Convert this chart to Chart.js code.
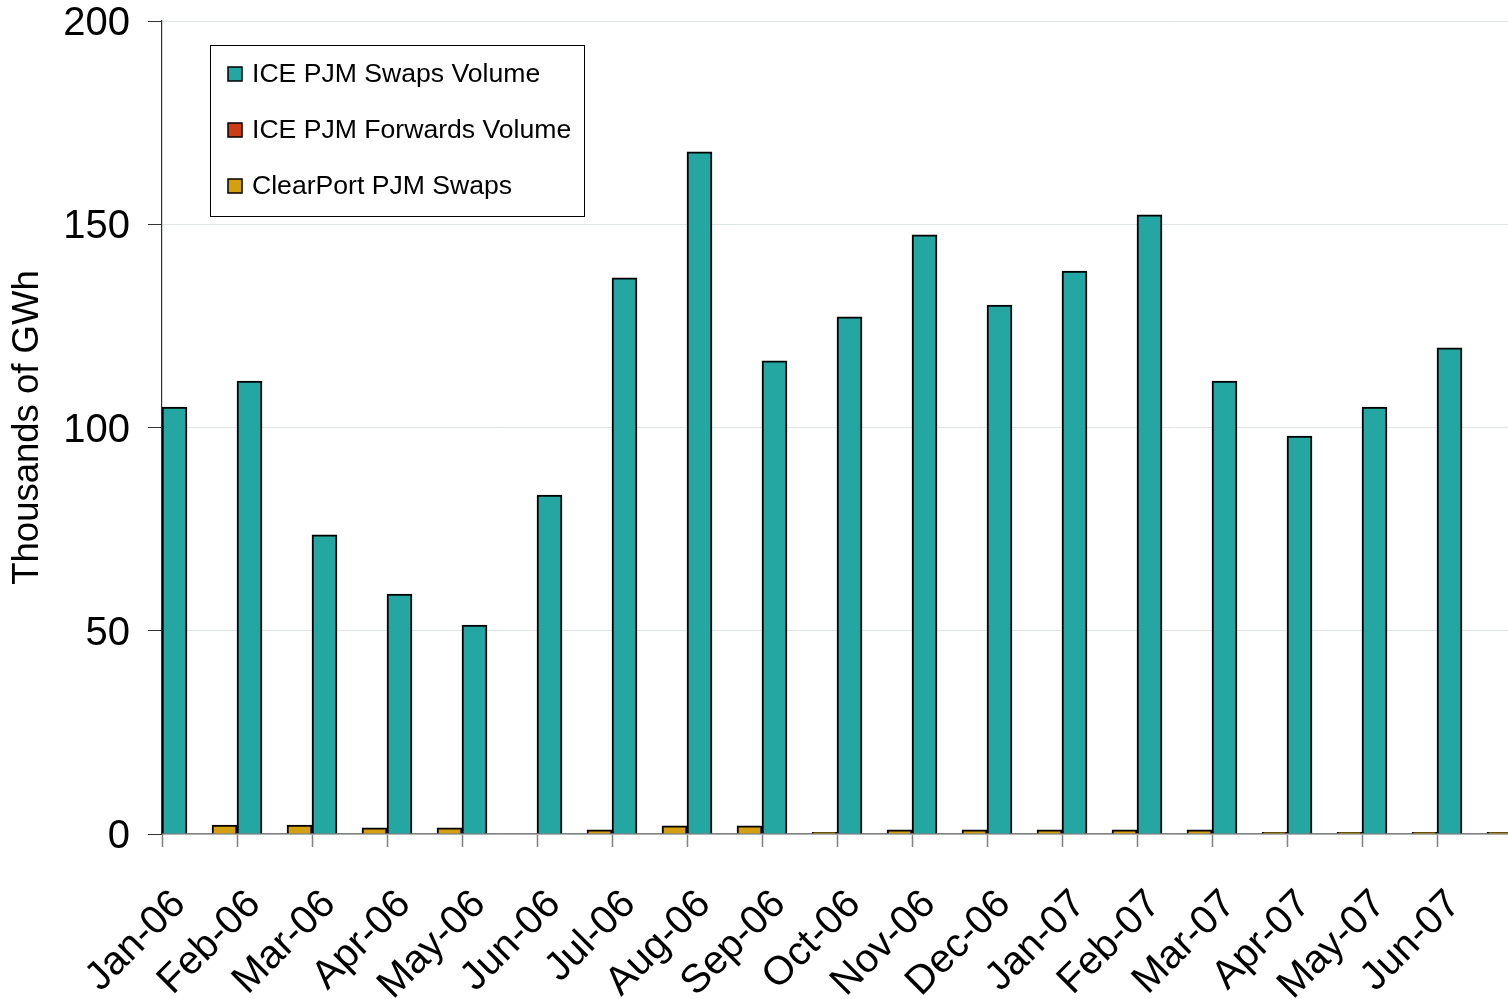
<!DOCTYPE html>
<html><head><meta charset="utf-8">
<script src="https://cdn.jsdelivr.net/npm/chart.js@4.4.1/dist/chart.umd.min.js"></script>
<style>html,body{margin:0;padding:0;background:#fff;overflow:hidden}#wrap{width:1512px;height:999px;position:relative}</style>
</head><body><div id="wrap"><canvas id="c"></canvas></div>
<script>
const categories = ['Jan-06','Feb-06','Mar-06','Apr-06','May-06','Jun-06','Jul-06','Aug-06','Sep-06','Oct-06','Nov-06','Dec-06','Jan-07','Feb-07','Mar-07','Apr-07','May-07','Jun-07'];
const iceSwapsVolume = [105.0,111.4,73.6,59.0,51.4,83.4,136.8,167.8,116.4,127.2,147.4,130.1,138.5,152.3,111.4,97.9,105.0,119.6];
const iceForwardsVolume = [0,0,0,0,0,0,0,0,0,0,0,0,0,0,0,0,0,0];
const clearPortSwaps = [2.2,2.2,1.5,1.5,0,1.0,2.0,2.0,0.4,1.0,1.0,1.0,1.0,1.0,0.4,0.4,0.4,0.4];
const seriesNames = ['ICE PJM Swaps Volume','ICE PJM Forwards Volume','ClearPort PJM Swaps'];
const seriesColors = ['#24a6a2','#cc3d14','#d4a010'];
const yTickValues = [0,50,100,150,200];
const yTitle = 'Thousands of GWh';

const FONT = '"Liberation Sans", Arial, sans-serif';

const boxLegend = {
  id: 'boxLegend',
  afterDraw(chart) {
    const ctx = chart.ctx, ca = chart.chartArea;
    const x = ca.left + 48, y = ca.top + 24, w = 374, h = 171;
    ctx.save();
    ctx.fillStyle = '#fff';
    ctx.fillRect(x, y, w, h);
    ctx.strokeStyle = '#000';
    ctx.lineWidth = 1;
    ctx.strokeRect(x + 0.5, y + 0.5, w, h);
    ctx.font = '26.6px ' + FONT;
    ctx.textBaseline = 'middle';
    ctx.textAlign = 'left';
    chart.data.datasets.forEach((ds, i) => {
      const cy = y + 29 + i * 56;
      ctx.fillStyle = ds.backgroundColor;
      ctx.fillRect(x + 18, cy - 7, 14, 14);
      ctx.strokeStyle = '#000';
      ctx.lineWidth = 1.5;
      ctx.strokeRect(x + 18, cy - 7, 14, 14);
      ctx.fillStyle = '#000';
      ctx.fillText(ds.label, x + 42, cy + 1);
    });
    ctx.restore();
  }
};

const datasets = [iceSwapsVolume, iceForwardsVolume, clearPortSwaps].map((d, i) => ({
  label: seriesNames[i],
  data: d,
  backgroundColor: seriesColors[i],
  borderColor: '#000',
  borderWidth: 2,
  barPercentage: 1.0,
  categoryPercentage: 1.0
}));

new Chart(document.getElementById('c'), {
  type: 'bar',
  data: { labels: categories, datasets },
  options: {
    responsive: true,
    maintainAspectRatio: false,
    animation: false,
    devicePixelRatio: 1,
    layout: { padding: 0 },
    plugins: { legend: { display: false }, tooltip: { enabled: false } },
    scales: {
      x: {
        offset: true,
        grid: { offset: true, drawOnChartArea: false, drawTicks: true, tickLength: 13, tickColor: '#808080', tickWidth: 1.5 },
        border: { color: '#808080', width: 1.5 },
        ticks: { autoSkip: false, minRotation: 45, maxRotation: 45, padding: 34, labelOffset: -20, color: '#000', font: { family: FONT, size: 40 } },
        afterFit(s) { s.height = 165; s.paddingRight = 0; s.paddingLeft = 0; }
      },
      y: {
        min: 0, max: 200,
        afterBuildTicks(s) { s.ticks = yTickValues.map(v => ({ value: v })); },
        grid: { color: '#dfe5e5', lineWidth: 1, tickLength: 14, tickColor: '#333', drawTicks: true },
        border: { color: '#333', width: 1.2 },
        ticks: { padding: 18, labelOffset: 3, color: '#000', font: { family: FONT, size: 40 } },
        title: { display: true, text: yTitle, color: '#000', font: { family: FONT, size: 36.5 }, padding: { top: 6, bottom: 0 } },
        afterFit(s) { s.width = 162; s.paddingTop = 21; s.paddingBottom = 0; }
      }
    }
  },
  plugins: [boxLegend]
});
</script>
</body></html>
